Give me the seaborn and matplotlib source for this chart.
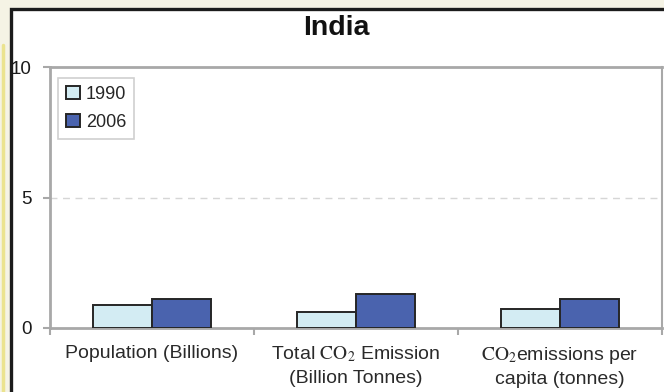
import matplotlib
matplotlib.use("Agg")
import matplotlib.pyplot as plt
from matplotlib.patches import Rectangle
from matplotlib.lines import Line2D
import pandas as pd
import seaborn as sns

# Chart data
categories = [
    "Population (Billions)",
    "Total $\\mathrm{CO_2}$ Emission\n(Billion Tonnes)",
    "$\\mathrm{CO_2}$emissions per\ncapita (tonnes)",
]
years = ["1990", "2006"]
values_1990 = [0.87, 0.6, 0.73]
values_2006 = [1.1, 1.3, 1.13]
y_ticks = [0, 5, 10]
title = "India"

df = pd.DataFrame({
    "category": categories * 2,
    "year": [years[0]] * 3 + [years[1]] * 3,
    "value": values_1990 + values_2006,
})

sns.set_theme(style="white")
plt.rcParams["font.family"] = ["Liberation Sans", "DejaVu Sans"]
plt.rcParams["mathtext.fontset"] = "stix"

W, H = 664, 392
fig = plt.figure(figsize=(W / 100, H / 100), dpi=100, facecolor="#f5f3e5")

# white framed panel and left accent strip, kept behind the axes
fig.patches.append(Rectangle((11 / W, -0.05), 1.0, 1 - 9 / H + 0.05,
                             transform=fig.transFigure, facecolor="white",
                             edgecolor="#1c1c1c", linewidth=2.4, zorder=-2))
fig.lines.append(Line2D([2.5 / W, 2.5 / W], [0, 1 - 45 / H],
                        transform=fig.transFigure, color="#ebe38f",
                        linewidth=2.5, zorder=-2))

ax = fig.add_axes([50 / W, 1 - 328 / H, 612 / W, 261 / H])
ax.set_facecolor("white")

sns.barplot(data=df, x="category", y="value", hue="year", order=categories,
            hue_order=years, palette=["#d3ecf3", "#4a63ae"], width=0.58,
            gap=0, edgecolor="#262626", linewidth=1.4, saturation=1,
            ax=ax, zorder=3)

ax.set_ylim(0, 10)
ax.set_xlim(-0.5, 2.5)
ax.set_yticks(y_ticks)
ax.set_yticklabels([str(t) for t in y_ticks], fontsize=13.5, color="#1a1a1a")
ax.tick_params(axis="y", length=5, width=1.5, color="#a8a8a8", pad=8, left=True)

ax.set_xticks(range(3))
ax.set_xticklabels(categories, fontsize=14, color="#2a2a2a",
                   linespacing=1.4)
ax.tick_params(axis="x", which="major", length=0, pad=12)
ax.set_xticks([-0.5, 0.5, 1.5, 2.5], minor=True)
ax.tick_params(axis="x", which="minor", length=5, width=1.5,
               color="#a8a8a8", bottom=True)

ax.set_xlabel("")
ax.set_ylabel("")
ax.axhline(5, color="#d6d6d6", linewidth=1, linestyle=(0, (5, 4)), zorder=1)

for side in ["left", "top", "right", "bottom"]:
    ax.spines[side].set_visible(True)
    ax.spines[side].set_color("#a8a8a8")
    ax.spines[side].set_linewidth(2)
ax.spines["right"].set_linewidth(1.5)

leg = ax.legend(loc="upper left", bbox_to_anchor=(0.013, 0.958),
                borderaxespad=0, fontsize=13, frameon=True, fancybox=False,
                handlelength=0.75, handleheight=0.75, handletextpad=0.35,
                labelspacing=0.6, borderpad=0.45, title=None)
leg.get_frame().set_edgecolor("#c4c4c4")
leg.get_frame().set_linewidth(1.2)

fig.text(336 / W, 1 - 28 / H, title, ha="center", va="center",
         fontsize=20.5, fontweight="bold", color="#111111")

fig.savefig("out.png", dpi=100, facecolor=fig.get_facecolor())
